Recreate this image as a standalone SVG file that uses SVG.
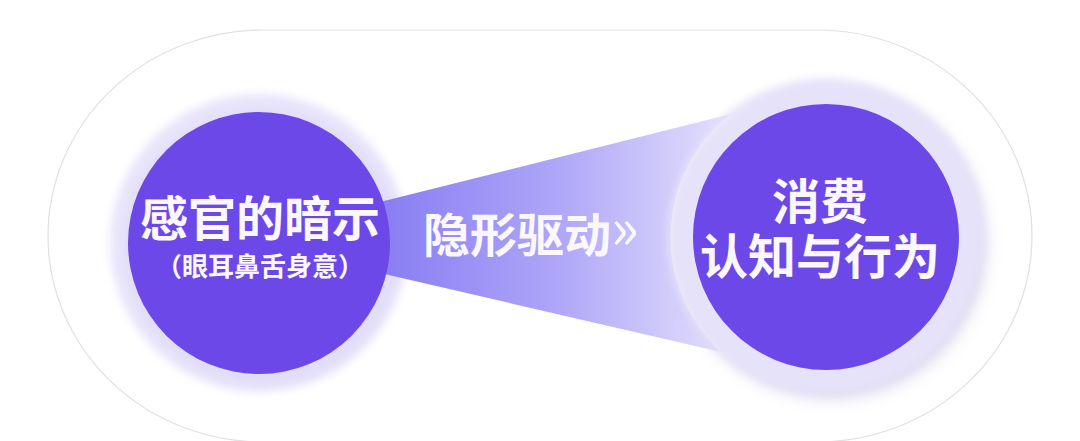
<svg xmlns="http://www.w3.org/2000/svg" width="1080" height="441" viewBox="0 0 1080 441">
  <style>
    .disc { fill: #6b48e7; }
    .t { font-family: "Noto Sans CJK SC", "Noto Sans", sans-serif; font-weight: 700; fill: #fbf7ff; text-anchor: middle; }
    .big { font-size: 48px; }
    .sub { font-size: 26px; }
  </style>
  <defs>
    <linearGradient id="beamGrad" x1="390" y1="0" x2="725" y2="0" gradientUnits="userSpaceOnUse">
      <stop offset="0" stop-color="#8a7ff3"/>
      <stop offset="0.5" stop-color="#aea6f8"/>
      <stop offset="1" stop-color="#e3dffc"/>
    </linearGradient>
    <filter id="soft" x="-30%" y="-30%" width="160%" height="160%">
      <feGaussianBlur stdDeviation="4"/>
    </filter>
    <filter id="soft2" x="-30%" y="-30%" width="160%" height="160%">
      <feGaussianBlur stdDeviation="9"/>
    </filter>
  </defs>

  <rect width="1080" height="441" fill="#ffffff"/>
  <g id="frame">
    <rect x="48" y="30" width="984" height="412" rx="215" ry="206" fill="#ffffff" stroke="#e1e1e1" stroke-width="1.2"/>
  </g>

  <g id="node-left-halo">
    <circle cx="259" cy="243" r="149" fill="#e8e4fa" filter="url(#soft)"/>
    <circle cx="262" cy="247" r="138" fill="#dcd7f4" filter="url(#soft)" opacity="0.5"/>
  </g>

  <g id="connectors">
    <path d="M 380 202 L 731 114 A 156 156 0 0 0 721 352 L 380 273 Z" fill="url(#beamGrad)"/>
    <text class="t" x="531" y="252" font-size="47" fill="#ffffff">隐形驱动<tspan font-size="58" font-weight="400" dy="-3">»</tspan></text>
  </g>

  <g id="node-left">
    <circle class="disc" cx="259" cy="243" r="131"/>
    <text class="t big" x="260" y="236">感官的暗示</text>
    <text class="t sub" x="260" y="276">（眼耳鼻舌身意）</text>
  </g>

  <g id="node-right">
    <circle cx="832" cy="244" r="152" fill="#c8c2e0" filter="url(#soft2)" opacity="0.8"/>
    <circle cx="826" cy="237" r="158" fill="#e6e2f9" filter="url(#soft)"/>
    <circle class="disc" cx="826" cy="237" r="133"/>
    <text class="t big" x="820" y="219">消费</text>
    <text class="t big" x="820" y="274">认知与行为</text>
  </g>
</svg>
